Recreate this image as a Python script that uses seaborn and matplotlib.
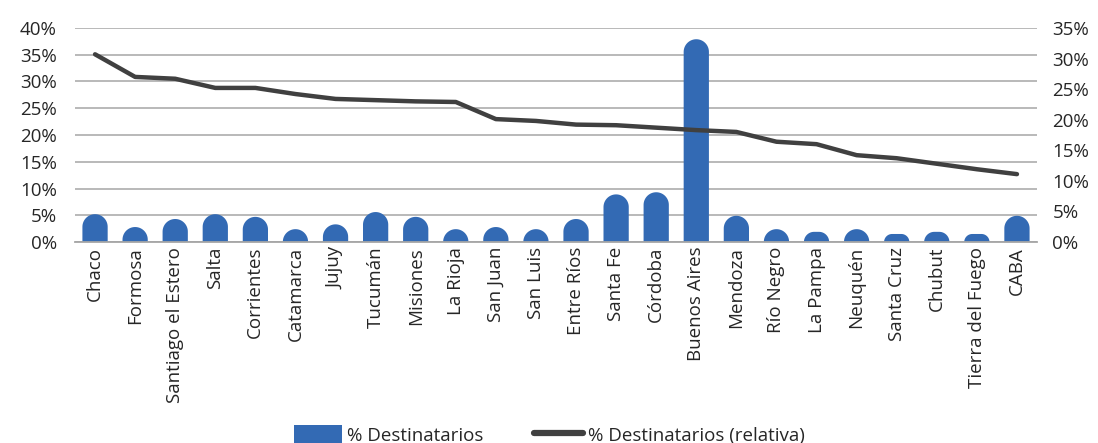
import numpy as np
import pandas as pd
import matplotlib
matplotlib.use("Agg")
import matplotlib.pyplot as plt
import seaborn as sns
from matplotlib.patches import Polygon, Patch
from matplotlib.lines import Line2D
from matplotlib.ticker import PercentFormatter

provincias = ["Chaco", "Formosa", "Santiago el Estero", "Salta", "Corrientes", "Catamarca",
              "Jujuy", "Tucumán", "Misiones", "La Rioja", "San Juan", "San Luis", "Entre Ríos",
              "Santa Fe", "Córdoba", "Buenos Aires", "Mendoza", "Río Negro", "La Pampa",
              "Neuquén", "Santa Cruz", "Chubut", "Tierra del Fuego", "CABA"]
destinatarios = [5.2, 2.8, 4.3, 5.2, 4.7, 2.4, 3.3, 5.6, 4.7, 2.4, 2.8, 2.4, 4.3,
                 8.9, 9.3, 37.9, 4.9, 2.4, 1.9, 2.4, 1.5, 1.9, 1.5, 4.9]
relativa = [30.7, 27.0, 26.7, 25.2, 25.2, 24.2, 23.4, 23.2, 23.0, 22.9, 20.1, 19.8, 19.2,
            19.1, 18.7, 18.3, 18.0, 16.4, 16.0, 14.2, 13.7, 12.8, 11.9, 11.1]

left_ticks = [0, 5, 10, 15, 20, 25, 30, 35, 40]
right_ticks = [0, 5, 10, 15, 20, 25, 30, 35]

bar_color = "#336ab4"
line_color = "#404040"
text_color = "#262626"

df = pd.DataFrame({"Provincia": provincias, "Destinatarios": destinatarios,
                   "Relativa": relativa, "pos": np.arange(len(provincias))})

sns.set_style("white")
plt.rcParams["font.family"] = ["Open Sans", "DejaVu Sans"]

fig = plt.figure(figsize=(10.98, 4.43), dpi=100)
ax = fig.add_axes([75 / 1098, 1 - 242 / 443, 962 / 1098, 214 / 443])

sns.barplot(data=df, x="Provincia", y="Destinatarios", color=bar_color, width=0.63,
            saturation=1, ax=ax, zorder=2)
ax.set_xlim(-0.5, len(provincias) - 0.5)
ax.set_ylim(0, 40)
ax.set_yticks(left_ticks)
ax.yaxis.set_major_formatter(PercentFormatter(decimals=0))
ax.grid(axis="y", color="#a6a6a6", linewidth=1.1, zorder=0)
ax.set_axisbelow(True)
for s in ["left", "right", "top"]:
    ax.spines[s].set_visible(False)
ax.spines["bottom"].set_color("#a6a6a6")
ax.spines["bottom"].set_linewidth(1.3)
ax.set_xlabel("")
ax.set_ylabel("")
ax.tick_params(axis="both", length=0, labelsize=13.5, colors=text_color)
ax.tick_params(axis="y", pad=13)
ax.set_xticks(range(len(provincias)))
ax.set_xticklabels(provincias, rotation=90, fontsize=13.5, color=text_color)

# rounded bar tops (circular in pixel space)
fig.canvas.draw()
p0 = ax.transData.transform((0, 0))
p1 = ax.transData.transform((1, 1))
px_x = p1[0] - p0[0]
px_y = p1[1] - p0[1]
bars = list(ax.patches)
for b in bars:
    x, w, h = b.get_x(), b.get_width(), b.get_height()
    b.remove()
    r_px = min(w * px_x / 2, h * px_y)
    rx = r_px / px_x
    ry = r_px / px_y
    t = np.linspace(0, np.pi / 2, 20)
    right = np.column_stack([x + w - rx + rx * np.cos(t), h - ry + ry * np.sin(t)])
    left = np.column_stack([x + rx - rx * np.cos(t[::-1]), h - ry + ry * np.sin(t[::-1])])
    verts = np.vstack([[[x + w, 0]], right, left, [[x, 0]]])
    ax.add_patch(Polygon(verts, closed=True, facecolor=bar_color, edgecolor="none",
                         zorder=2))

ax2 = ax.twinx()
sns.lineplot(data=df, x="pos", y="Relativa", color=line_color, linewidth=3.2, ax=ax2,
             zorder=3)
ax2.set_ylim(0, 35)
ax2.set_yticks(right_ticks)
ax2.yaxis.set_major_formatter(PercentFormatter(decimals=0))
ax2.set_xlim(-0.5, len(provincias) - 0.5)
for s in ["left", "right", "top", "bottom"]:
    ax2.spines[s].set_visible(False)
ax2.set_ylabel("")
ax2.set_xlabel("")
ax2.tick_params(axis="y", length=0, labelsize=13.5, colors=text_color, pad=11)
ax2.grid(False)

handles = [Patch(facecolor=bar_color, edgecolor="none"),
           Line2D([0], [0], color=line_color, linewidth=4.5)]
fig.legend(handles, ["% Destinatarios", "% Destinatarios (relativa)"],
           loc="center", bbox_to_anchor=(0.5, 1 - 435 / 443), ncol=2, frameon=False,
           fontsize=13.5, handlelength=2.6, handleheight=1.1, handletextpad=0.25,
           columnspacing=2.7, labelcolor=text_color)

fig.savefig("out.png", dpi=100)
